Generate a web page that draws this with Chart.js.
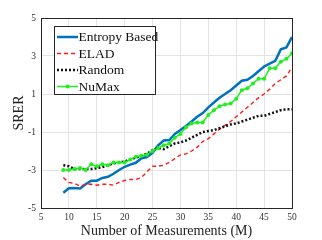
<!DOCTYPE html>
<html>
<head>
<meta charset="utf-8">
<script src="https://cdn.jsdelivr.net/npm/chart.js@4.4.1/dist/chart.umd.min.js"></script>
<style>
  html, body { margin: 0; padding: 0; background: #fff; }
  #wrap { width: 322px; height: 240px; }
</style>
</head>
<body>
<div id="wrap"><canvas id="c" width="322" height="240"></canvas></div>
<script>
// measurements M = 9..50
const measurements = [9,10,11,12,13,14,15,16,17,18,19,20,21,22,23,24,25,26,27,28,29,
  30,31,32,33,34,35,36,37,38,39,40,41,42,43,44,45,46,47,48,49,50];

const entropyBased = [-4.2,-3.96,-3.95,-3.97,-3.75,-3.56,-3.56,-3.42,-3.36,-3.2,-3.0,-2.83,-2.72,-2.62,-2.38,-2.32,-2.1,
  -1.7,-1.45,-1.42,-1.1,-0.9,-0.68,-0.45,-0.2,0.0,0.3,0.55,0.8,1.0,1.2,1.45,1.7,1.75,1.95,2.2,2.45,2.6,2.75,3.35,3.45,4.0];

const elad = [-3.4,-3.65,-3.7,-3.85,-3.75,-3.75,-3.8,-3.75,-3.75,-3.8,-3.65,-3.55,-3.5,-3.5,-3.4,-3.1,-2.8,
  -2.8,-2.75,-2.6,-2.4,-2.2,-2.15,-2.0,-1.8,-1.5,-1.35,-1.1,-0.85,-0.65,-0.45,-0.2,0.05,0.3,0.55,0.8,1.0,1.25,1.55,1.75,1.95,2.4];

const random = [-2.75,-2.8,-2.95,-2.95,-2.95,-2.95,-2.9,-2.85,-2.75,-2.65,-2.6,-2.55,-2.45,-2.35,-2.25,-2.15,-1.95,
  -1.85,-1.9,-1.75,-1.6,-1.55,-1.45,-1.3,-1.15,-1.0,-0.95,-0.9,-0.8,-0.7,-0.6,-0.55,-0.45,-0.35,-0.25,-0.15,-0.15,-0.05,0.05,0.15,0.2,0.2];

const numax = [-3.0,-3.0,-2.95,-2.9,-3.0,-2.7,-2.8,-2.7,-2.75,-2.6,-2.6,-2.6,-2.45,-2.3,-2.25,-2.2,-2.0,
  -1.85,-1.7,-1.6,-1.3,-1.1,-0.75,-0.55,-0.5,-0.5,-0.1,0.15,0.35,0.45,0.5,0.75,1.2,1.3,1.55,1.8,1.8,2.35,2.35,2.7,2.85,3.15];

const seriesNames = ["Entropy Based", "ELAD", "Random", "NuMax"];
const xTicks = [5,10,15,20,25,30,35,40,45,50];
const yTicks = [-5,-3,-1,1,3,5];

const serif = "'Liberation Serif', 'DejaVu Serif', serif";

function pts(ys) {
  return measurements.map((m, i) => ({ x: m, y: ys[i] }));
}

// box around the plot area
const frame = {
  id: 'frame',
  afterDraw(chart) {
    const a = chart.chartArea, ctx = chart.ctx;
    ctx.save();
    ctx.strokeStyle = '#262626';
    ctx.lineWidth = 1;
    ctx.strokeRect(Math.round(a.left) + 0.5, Math.round(a.top) + 0.5,
      Math.round(a.right - a.left), Math.round(a.bottom - a.top));
    ctx.restore();
  }
};

// legend inside the plot, top left
const insideLegend = {
  id: 'insideLegend',
  afterDraw(chart) {
    const ctx = chart.ctx;
    const x0 = 54, y0 = 26, w = 101, h = 68;
    ctx.save();
    ctx.fillStyle = '#fff';
    ctx.fillRect(x0, y0, w, h);
    ctx.strokeStyle = '#262626';
    ctx.lineWidth = 1;
    ctx.strokeRect(x0 + 0.5, y0 + 0.5, w, h);
    ctx.font = '13.5px ' + serif;
    ctx.textBaseline = 'middle';
    chart.data.datasets.forEach((ds, i) => {
      const y = 37 + i * 16.5;
      ctx.strokeStyle = ds.borderColor;
      ctx.lineWidth = ds.borderWidth;
      ctx.setLineDash(ds.borderDash || []);
      ctx.beginPath();
      ctx.moveTo(57, y);
      ctx.lineTo(78, y);
      ctx.stroke();
      ctx.setLineDash([]);
      if (ds.pointRadius) {
        ctx.fillStyle = ds.pointBackgroundColor;
        ctx.beginPath();
        ctx.arc(67.5, y, ds.pointRadius, 0, Math.PI * 2);
        ctx.fill();
      }
      ctx.fillStyle = '#111';
      ctx.fillText(ds.label, 78.5, y + 0.5);
    });
    ctx.restore();
  }
};

new Chart(document.getElementById('c'), {
  type: 'line',
  data: {
    datasets: [
      { label: seriesNames[0], data: pts(entropyBased), borderColor: '#0072BD', borderWidth: 2.5,
        pointRadius: 0, fill: false, order: 4 },
      { label: seriesNames[1], data: pts(elad), borderColor: '#ff1a1a', borderWidth: 1.4,
        borderDash: [4, 3], pointRadius: 0, fill: false, order: 3 },
      { label: seriesNames[2], data: pts(random), borderColor: '#111', borderWidth: 2.5,
        borderDash: [2, 2], pointRadius: 0, fill: false, order: 2 },
      { label: seriesNames[3], data: pts(numax), borderColor: '#1ef01e', borderWidth: 1.5,
        pointRadius: 2, pointBackgroundColor: '#1ef01e', pointBorderWidth: 0, fill: false, order: 1 }
    ]
  },
  options: {
    responsive: false,
    animation: false,
    layout: { padding: { left: 11, right: 30, top: 18, bottom: 0 } },
    plugins: { legend: { display: false }, tooltip: { enabled: false } },
    scales: {
      x: {
        type: 'linear', min: 5, max: 50,
        afterBuildTicks: s => { s.ticks = xTicks.map(v => ({ value: v })); },
        afterFit: s => { s.height = 32; },
        grid: { color: '#e3e3e3', drawTicks: false },
        border: { display: false },
        ticks: { color: '#333', font: { family: serif, size: 9.5 }, padding: 4, maxRotation: 0 },
        title: { display: true, text: 'Number of Measurements (M)', color: '#222',
          font: { family: serif, size: 14 }, padding: { top: 0, bottom: 0 } }
      },
      y: {
        min: -5, max: 5,
        afterBuildTicks: s => { s.ticks = yTicks.map(v => ({ value: v })); },
        afterFit: s => { s.width = 30; },
        grid: { color: '#e3e3e3', drawTicks: false },
        border: { display: false },
        ticks: { color: '#333', font: { family: serif, size: 9.5 }, padding: 5 },
        title: { display: true, text: 'SRER', color: '#222',
          font: { family: serif, size: 14 }, padding: { top: 0, bottom: 0 } }
      }
    }
  },
  plugins: [frame, insideLegend]
});
</script>
</body>
</html>
